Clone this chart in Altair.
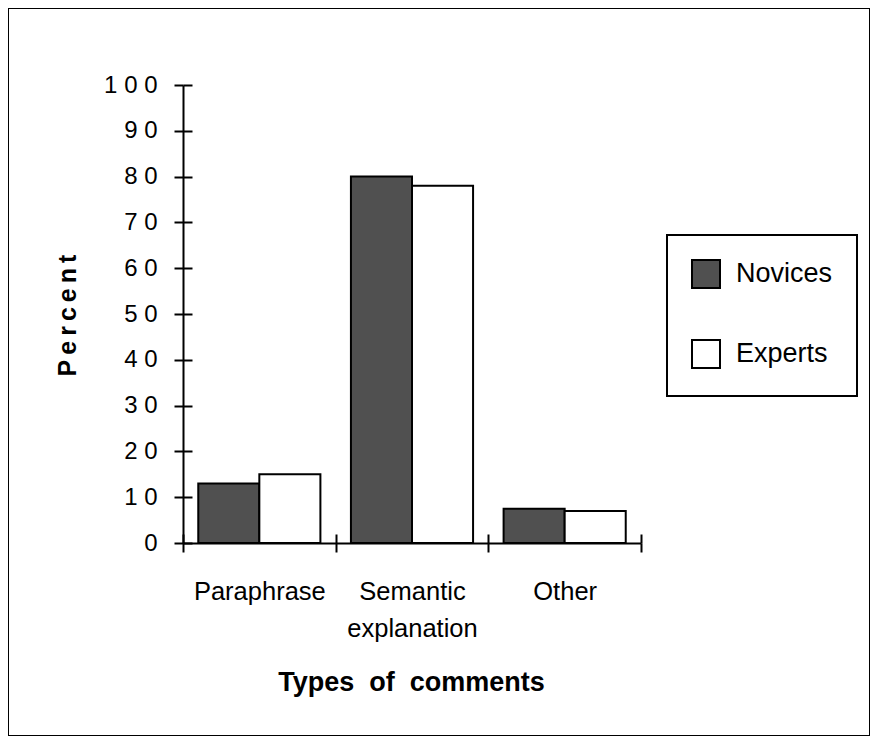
import altair as alt
import pandas as pd

categories = ["Paraphrase", "Semantic explanation", "Other"]
groups = ["Novices", "Experts"]
novices = [13, 80, 7.5]
experts = [15, 78, 7]
y_ticks = list(range(0, 101, 10))
colors = ["#505050", "#ffffff"]

rows = []
for c, n, e in zip(categories, novices, experts):
    rows.append({"type": c, "group": "Novices", "percent": n})
    rows.append({"type": c, "group": "Experts", "percent": e})
df = pd.DataFrame(rows)

W, H = 862, 728
FONT = "Liberation Sans"
X0, X1 = 175, 633      # x axis extent (plot coords)
Y0, Y100 = 535, 77     # y positions of 0 and 100

x_scale = alt.Scale(domain=categories, range=[X0, X1], paddingInner=0, paddingOuter=0)
y_scale = alt.Scale(domain=[0, 100], range=[Y0, Y100], nice=False)

bars = alt.Chart(df).mark_bar(stroke="black", strokeWidth=2).encode(
    x=alt.X("type:N", sort=categories, scale=x_scale,
            axis=alt.Axis(orient="bottom", offset=Y0 - H, tickBand="extent",
                          tickSize=9, tickWidth=2, tickColor="black",
                          domainWidth=2, domainColor="black",
                          labelExpr="split(datum.label, ' ')", labelFont=FONT,
                          labelFontSize=25.5, labelColor="black", labelPadding=27,
                          labelLineHeight=37, labelAngle=0, labelOverlap=False,
                          title="Types\u00a0\u00a0of\u00a0\u00a0comments", titleFont=FONT,
                          titleFontSize=27, titleFontWeight="bold", titleColor="black",
                          titleX=403, titleY=147, titleAlign="center",
                          titleBaseline="alphabetic")),
    xOffset=alt.XOffset("group:N", sort=groups,
                        scale=alt.Scale(paddingOuter=0.25, paddingInner=0)),
    y=alt.Y("percent:Q", scale=y_scale,
            axis=alt.Axis(orient="left", offset=-X0, values=y_ticks, grid=False,
                          tickSize=9, tickWidth=2, tickColor="black",
                          domainWidth=2, domainColor="black",
                          labelExpr="join(split(datum.label, ''), ' ')",
                          labelFont=FONT, labelFontSize=24, labelColor="black",
                          labelPadding=17,
                          title="P\u2009e\u2009r\u2009c\u2009e\u2009n\u2009t",
                          titleFont=FONT, titleFontSize=25, titleFontWeight="bold",
                          titleColor="black", titleAngle=270, titleX=-116, titleY=307,
                          titleAlign="center", titleBaseline="middle")),
    color=alt.Color("group:N", sort=groups,
                    scale=alt.Scale(domain=groups, range=colors),
                    legend=alt.Legend(orient="none", legendX=659, legendY=227, title=None,
                                      symbolType="square", symbolSize=784,
                                      symbolStrokeColor="black", symbolStrokeWidth=2,
                                      labelFont=FONT, labelFontSize=27, labelColor="black",
                                      labelOffset=15, rowPadding=44, padding=24,
                                      strokeColor="black")),
)

cross = alt.Chart(df).mark_bar(opacity=0).encode(
    x=alt.X("type:N", sort=categories, scale=x_scale,
            axis=alt.Axis(orient="bottom", offset=Y0 - H - 9, tickBand="extent",
                          tickSize=9, tickWidth=2, tickColor="black",
                          domain=False, labels=False, title=None)),
    y=alt.Y("percent:Q", scale=y_scale,
            axis=alt.Axis(orient="left", offset=-(X0 + 9), values=y_ticks, grid=False,
                          tickSize=9, tickWidth=2, tickColor="black",
                          domain=False, labels=False, title=None)),
)

chart = alt.layer(bars, cross).resolve_axis(
    x="independent", y="independent"
).properties(
    width=W, height=H, padding=0,
    autosize=alt.AutoSizeParams(type="none")
).configure_view(
    stroke="black", strokeWidth=2
).configure_legend(
    strokeWidth=2
)

chart.save("out.html", embed_options={"renderer": "svg", "actions": False})
